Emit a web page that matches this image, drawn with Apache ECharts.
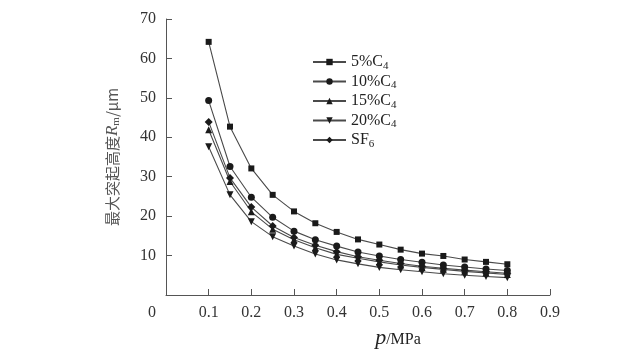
<!DOCTYPE html>
<html>
<head>
<meta charset="UTF-8">
<title>最大突起高度</title>
<script src="https://cdn.jsdelivr.net/npm/echarts@6/dist/echarts.min.js"></script>
<style>
	html, body { margin: 0; padding: 0; background: #fff; }
	#chart { width: 640px; height: 354px; }
</style>
</head>
<body>
<div id="chart"></div>
<script>
// 气压 p/MPa
var pressure = [0.1, 0.15, 0.2, 0.25, 0.3, 0.35, 0.4, 0.45, 0.5, 0.55, 0.6, 0.65, 0.7, 0.75, 0.8];
// 各气体下的最大突起高度 Rm/μm
var c4_5 = [64.2, 42.7, 32.1, 25.4, 21.2, 18.2, 16.0, 14.1, 12.8, 11.5, 10.5, 9.9, 9.0, 8.4, 7.8];
var c4_10 = [49.3, 32.6, 24.8, 19.7, 16.2, 14.0, 12.4, 10.9, 9.9, 9.0, 8.3, 7.6, 7.1, 6.6, 6.2];
var c4_15 = [41.9, 28.8, 21.1, 16.7, 14.0, 12.0, 10.3, 9.3, 8.4, 7.6, 7.0, 6.5, 6.0, 5.6, 5.2];
var c4_20 = [37.6, 25.4, 18.6, 14.8, 12.4, 10.4, 8.9, 7.9, 7.0, 6.4, 5.9, 5.4, 5.0, 4.7, 4.4];
var sf6 = [43.9, 29.7, 22.3, 17.5, 14.6, 12.6, 11.0, 9.7, 8.8, 8.0, 7.3, 6.8, 6.3, 5.9, 5.5];
var seriesNames = ['5%C4', '10%C4', '15%C4', '20%C4', 'SF6'];
var xTicks = [0, 0.1, 0.2, 0.3, 0.4, 0.5, 0.6, 0.7, 0.8, 0.9];
var yTicks = [10, 20, 30, 40, 50, 60, 70];

function pairs(ys) {
	return pressure.map(function(p, i) { return [p, ys[i]]; });
}

var chart = echarts.init(document.getElementById('chart'));
var serif = 'Liberation Serif';
var lineCol = '#4a4a4a';

function makeSeries(name, ys, symbol, size, rotate) {
	return {
		name: name,
		type: 'line',
		data: pairs(ys),
		symbol: symbol,
		symbolSize: size,
		symbolRotate: rotate || 0,
		showAllSymbol: true,
		lineStyle: { color: lineCol, width: 1.1 },
		itemStyle: { color: '#1a1a1a', borderWidth: 0 },
		animation: false
	};
}

var option = {
	backgroundColor: '#fff',
	grid: { left: 166, right: 90, top: 19, bottom: 56.4, containLabel: false },
	legend: {
		orient: 'vertical',
		left: 312,
		top: 54,
		padding: 0,
		itemWidth: 33,
		itemHeight: 8,
		itemGap: 2,
		data: seriesNames,
		formatter: function(name) {
			if (name === 'SF6') return 'SF{s|6}';
			return name.replace('C4', 'C{s|4}');
		},
		textStyle: {
			fontFamily: serif,
			fontSize: 16,
			color: '#222',
			rich: {
				s: { fontFamily: serif, fontSize: 11, color: '#222', verticalAlign: 'bottom', padding: [8, 0, 0, 0] }
			}
		}
	},
	xAxis: {
		type: 'value',
		min: 0,
		max: 0.9,
		interval: 0.1,
		name: '{p|p}{u|/MPa}',
		nameLocation: 'middle',
		nameGap: 32,
		nameTextStyle: {
			padding: [0, 0, 0, 80],
			rich: {
				p: { fontFamily: serif, fontStyle: 'italic', fontSize: 22, color: '#222' },
				u: { fontFamily: serif, fontSize: 16, color: '#222', padding: [4, 0, 0, 0] }
			}
		},
		axisLine: { lineStyle: { color: '#555', width: 1 } },
		axisTick: { inside: true, length: 6, lineStyle: { color: '#555' } },
		splitLine: { show: false },
		axisLabel: {
			margin: 10,
			fontFamily: serif,
			fontSize: 16,
			color: '#333',
			formatter: function(v) {
				if (v === 0) return '{z|0}';
				return xTicks.indexOf(Math.round(v * 10) / 10) >= 0 ? v.toFixed(1) : '';
			},
			rich: {
				z: { fontFamily: serif, fontSize: 16, color: '#333', padding: [0, 28, 0, 0] }
			}
		}
	},
	yAxis: {
		type: 'value',
		min: 0,
		max: 70,
		interval: 10,
		name: '最大突起高度{r|R}{m|m}/μm',
		nameLocation: 'middle',
		nameGap: 44,
		nameRotate: 90,
		nameTextStyle: {
			fontFamily: 'Noto Sans CJK SC',
			fontSize: 15,
			color: '#555',
			rich: {
				r: { fontFamily: serif, fontStyle: 'italic', fontSize: 17, color: '#555' },
				m: { fontFamily: serif, fontSize: 11, color: '#555', padding: [8, 0, 0, 0] }
			}
		},
		axisLine: { show: true, lineStyle: { color: '#555', width: 1 } },
		axisTick: { inside: true, length: 6, lineStyle: { color: '#555' } },
		splitLine: { show: false },
		axisLabel: {
			margin: 10,
			fontFamily: serif,
			fontSize: 16,
			color: '#333',
			showMinLabel: false,
			formatter: function(v) {
				return yTicks.indexOf(v) >= 0 ? String(v) : '';
			}
		}
	},
	series: [
		makeSeries(seriesNames[0], c4_5, 'rect', 6),
		makeSeries(seriesNames[1], c4_10, 'circle', 7),
		makeSeries(seriesNames[2], c4_15, 'triangle', 7),
		makeSeries(seriesNames[3], c4_20, 'triangle', 7, 180),
		makeSeries(seriesNames[4], sf6, 'diamond', 8)
	]
};

chart.setOption(option);
</script>
</body>
</html>
